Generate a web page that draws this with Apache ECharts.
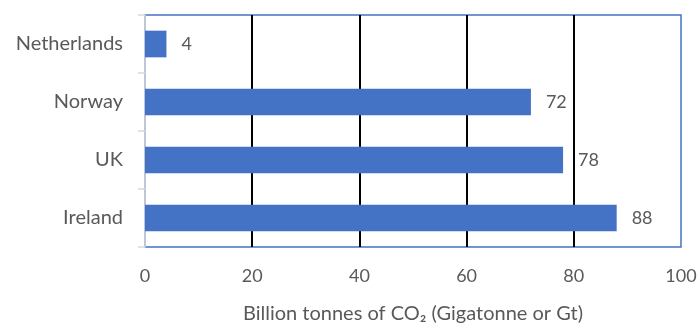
<!DOCTYPE html>
<html>
<head>
<meta charset="utf-8">
<script src="https://cdn.jsdelivr.net/npm/echarts@6/dist/echarts.min.js"></script>
<style>
  html, body { margin: 0; padding: 0; background: #fff; }
  #chart { width: 700px; height: 329px; }
</style>
</head>
<body>
<div id="chart"></div>
<script>
// Emissions budget per country, billion tonnes of CO2
const countries = ['Netherlands', 'Norway', 'UK', 'Ireland'];
const emissions = [4, 72, 78, 88];
const axisTicks = { min: 0, max: 100, interval: 20 };
const axisTitle = 'Billion tonnes of CO₂ (Gigatonne or Gt)';

const FONT = 'Lato, "Open Sans", sans-serif';
const TEXT = '#595959';
const BLUE = '#4472C4';

const chart = echarts.init(document.getElementById('chart'), null, { renderer: 'canvas' });

chart.setOption({
  animation: false,
  backgroundColor: '#fff',
  grid: {
    left: 145, right: 19, top: 15, bottom: 77,
    show: true,
    borderColor: BLUE,
    borderWidth: 1.5,
    backgroundColor: 'transparent'
  },
  xAxis: {
    type: 'value',
    min: axisTicks.min,
    max: axisTicks.max,
    interval: axisTicks.interval,
    axisLine: { show: false },
    axisTick: { show: false },
    axisLabel: { color: TEXT, fontSize: 18, fontFamily: FONT, margin: 20 },
    splitLine: {
      show: true,
      lineStyle: {
        color: ['transparent', '#000', '#000', '#000', '#000', 'transparent'],
        width: 2
      }
    },
    name: axisTitle,
    nameLocation: 'middle',
    nameGap: 57,
    nameTextStyle: { color: TEXT, fontSize: 20, fontFamily: FONT }
  },
  yAxis: {
    type: 'category',
    data: countries,
    inverse: true,
    axisLine: { show: true, lineStyle: { color: '#d9d9d9', width: 1.5 } },
    axisTick: { show: true, length: 7, lineStyle: { color: '#d9d9d9', width: 1.5 } },
    axisLabel: { color: TEXT, fontSize: 20, fontFamily: FONT, margin: 22 },
    splitLine: { show: false }
  },
  series: [{
    type: 'bar',
    data: emissions,
    barWidth: '46%',
    itemStyle: { color: BLUE },
    z: 3,
    label: {
      show: true,
      position: 'right',
      distance: 15,
      color: TEXT,
      fontSize: 18,
      fontFamily: FONT
    }
  }]
});
</script>
</body>
</html>
